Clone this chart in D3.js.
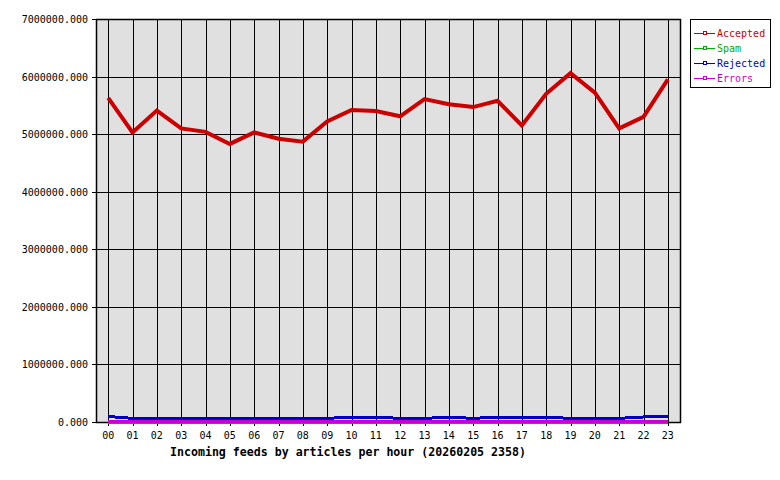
<!DOCTYPE html>
<html>
<head>
<meta charset="utf-8">
<script src="https://cdn.jsdelivr.net/npm/d3@7"></script>
<style>
  body { margin: 0; background: #fff; }
  svg { display: block; font-family: "DejaVu Sans Mono", monospace; }
</style>
</head>
<body>
<div id="canvas"></div>
<script>
// hours on the x axis
var hours = ["00","01","02","03","04","05","06","07","08","09","10","11",
             "12","13","14","15","16","17","18","19","20","21","22","23"];

var accepted = [5630000, 5030000, 5410000, 5100000, 5040000, 4830000, 5030000, 4920000,
                4870000, 5220000, 5420000, 5400000, 5310000, 5610000, 5520000, 5470000,
                5580000, 5150000, 5700000, 6060000, 5720000, 5100000, 5300000, 5950000];
var spam = [0,0,0,0,0,0,0,0,0,0,0,0,0,0,0,0,0,0,0,0,0,0,0,0];
var rejected = [95000, 64000, 64000, 64000, 64000, 64000, 64000, 64000, 64000, 64000, 82000, 82000,
                64000, 64000, 82000, 64000, 82000, 82000, 82000, 64000, 64000, 64000, 87000, 104000];
var errors = [10000,10000,10000,10000,10000,10000,10000,10000,10000,10000,10000,10000,
              10000,10000,10000,10000,10000,10000,10000,10000,10000,10000,10000,10000];

var yTicks = [0, 1000000, 2000000, 3000000, 4000000, 5000000, 6000000, 7000000];
var seriesNames = ["Accepted", "Spam", "Rejected", "Errors"];
var seriesColors = ["#cc0000", "#00aa00", "#0000cc", "#cc00cc"];
var seriesWidths = [4, 3, 3, 3];
var title = "Incoming feeds by articles per hour (20260205 2358)";

var W = 780, H = 480;
// plot area box
var pLeft = 96, pRight = 680, pTop = 19, pBottom = 422;

var svg = d3.select("#canvas").append("svg")
    .attr("width", W).attr("height", H);

var x = d3.scalePoint().domain(hours).range([pLeft, pRight]).padding(0.5);
var y = d3.scaleLinear().domain([0, 7000000]).range([pBottom, pTop]);

// plot background
svg.append("rect")
    .attr("x", pLeft).attr("y", pTop)
    .attr("width", pRight - pLeft).attr("height", pBottom - pTop)
    .attr("fill", "#e0e0e0");

// grid
svg.append("g").selectAll("line").data(yTicks).join("line")
    .attr("x1", pLeft - 4).attr("x2", pRight)
    .attr("y1", function (d) { return Math.round(y(d)) + 0.5; })
    .attr("y2", function (d) { return Math.round(y(d)) + 0.5; })
    .attr("stroke", "#000").attr("stroke-width", 1);

svg.append("g").selectAll("line").data(hours).join("line")
    .attr("x1", function (d) { return Math.round(x(d)) + 0.5; })
    .attr("x2", function (d) { return Math.round(x(d)) + 0.5; })
    .attr("y1", pTop).attr("y2", pBottom + 4)
    .attr("stroke", "#000").attr("stroke-width", 1);

// frame
svg.append("rect")
    .attr("x", pLeft + 0.5).attr("y", pTop + 0.5)
    .attr("width", pRight - pLeft).attr("height", pBottom - pTop)
    .attr("fill", "none").attr("stroke", "#000").attr("stroke-width", 1.5);

// y labels
svg.append("g").selectAll("text").data(yTicks).join("text")
    .attr("x", pLeft - 8)
    .attr("y", function (d) { return y(d) + 4; })
    .attr("text-anchor", "end")
    .attr("font-size", "10px")
    .text(function (d) { return d3.format(".3f")(d); });

// x labels
svg.append("g").selectAll("text").data(hours).join("text")
    .attr("x", function (d) { return x(d); })
    .attr("y", 439)
    .attr("text-anchor", "middle")
    .attr("font-size", "10px")
    .text(function (d) { return d; });

svg.append("text")
    .attr("x", 348).attr("y", 456)
    .attr("text-anchor", "middle")
    .attr("font-size", "11.6px")
    .attr("font-weight", "bold")
    .text(title);

// lines
var allSeries = [accepted, spam, rejected, errors];
var line = d3.line()
    .x(function (d, i) { return x(hours[i]); })
    .y(function (d) { return y(d); });

allSeries.forEach(function (vals, k) {
  svg.append("path")
      .datum(vals)
      .attr("d", line)
      .attr("fill", "none")
      .attr("stroke", seriesColors[k])
      .attr("stroke-width", seriesWidths[k])
      .attr("shape-rendering", k == 0 ? "auto" : "crispEdges");
});

// legend
var lg = svg.append("g");
lg.append("rect")
    .attr("x", 690.5).attr("y", 19.5)
    .attr("width", 80).attr("height", 68)
    .attr("fill", "#fff").attr("stroke", "#000").attr("stroke-width", 1);

var item = lg.selectAll("g").data(seriesNames).join("g")
    .attr("transform", function (d, i) { return "translate(0," + (33 + i * 15) + ")"; });
item.append("line")
    .attr("x1", 694).attr("x2", 715).attr("y1", 0.5).attr("y2", 0.5)
    .attr("stroke", function (d, i) { return seriesColors[i]; });
item.append("rect")
    .attr("x", 703.5).attr("y", -1.5).attr("width", 3).attr("height", 3)
    .attr("fill", "#fff")
    .attr("stroke", function (d, i) { return seriesColors[i]; });
item.append("text")
    .attr("x", 717).attr("y", 4)
    .attr("font-size", "10px")
    .attr("fill", function (d, i) { return seriesColors[i]; })
    .text(function (d) { return d; });
</script>
</body>
</html>
